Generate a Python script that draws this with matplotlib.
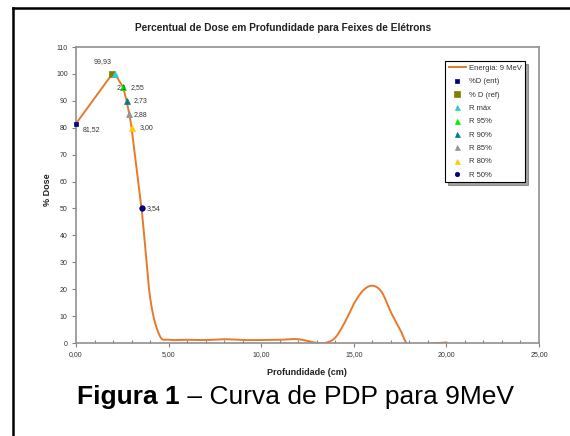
import numpy as np
import matplotlib
matplotlib.use("Agg")
import matplotlib.pyplot as plt
from matplotlib.lines import Line2D
from matplotlib.ticker import MultipleLocator

plt.rcParams['font.family'] = ['Liberation Sans', 'DejaVu Sans']

# ---- data ----
curve_x = [0.0, 1.95, 2.1, 2.55, 2.73, 2.88, 3.00, 3.54, 4.0, 4.5, 5.0, 6.0, 7.0, 8.0,
           9.0, 10.0, 11.0, 12.0, 13.0, 13.5, 14.0, 14.5, 15.0, 15.5, 16.0, 16.5, 17.0,
           17.5, 18.0, 19.0, 20.0]
curve_y = [81.52, 99.93, 100.0, 95.0, 90.0, 85.0, 80.0, 50.0, 17.0, 3.0, 1.2, 1.2, 1.1, 1.4,
           1.1, 1.1, 1.2, 1.4, 0.0, 0.1, 2.0, 7.5, 14.5, 19.5, 21.3, 19.0, 11.5,
           5.0, -1.0, -0.3, 0.2]

pt_names = ["%D (ent)", "% D (ref)", "R máx", "R 95%", "R 90%", "R 85%", "R 80%", "R 50%"]
pt_x = [0.0, 1.95, 2.1, 2.55, 2.73, 2.88, 3.00, 3.54]
pt_y = [81.52, 99.93, 100.0, 95.0, 90.0, 85.0, 80.0, 50.0]
pt_labels = ["81,52", "99,93", "2,1", "2,55", "2,73", "2,88", "3,00", "3,54"]
pt_colors = ["#000080", "#808000", "#33CCCC", "#00EE00", "#008080", "#969696", "#FFCC00", "#000080"]
pt_markers = ["s", "s", "^", "^", "^", "^", "^", "o"]
pt_sizes = [3.5, 5, 4.5, 4.5, 4.5, 4.5, 4.5, 4]
lbl_offsets = [(5, -4), (-7, 9), (1, -10), (5, 0), (5, 0), (3, 0), (6, 0), (4, 0)]
lbl_ha = ["left", "center", "left", "left", "left", "left", "left", "left"]

xticks = [0, 5, 10, 15, 20, 25]
xtick_labels = ["0,00", "5,00", "10,00", "15,00", "20,00", "25,00"]
yticks = list(range(0, 111, 10))

W, H = 570, 436
fig = plt.figure(figsize=(W / 100, H / 100), dpi=100)
fig.patch.set_facecolor("white")

L, R, T, B = 76, 539, 47, 343
ax = fig.add_axes([L / W, 1 - B / H, (R - L) / W, (B - T) / H])
ax.set_xlim(0, 25)
ax.set_ylim(0, 110)

# straight segments through the build-up / R-points region, smoothed (Excel-like) after
cx = np.array(curve_x); cy = np.array(curve_y)
k = int(np.where(cx == 3.54)[0][0])
sx = list(cx[:k]); sy = list(cy[:k])
pw, ph = R - L, B - T
P = np.column_stack([cx / 25 * pw, cy / 110 * ph])
n = len(P)
t = np.linspace(0, 1, 40)
for i in range(k, n - 1):
    p0 = P[i - 1]
    p1 = P[i]
    p2 = P[i + 1]
    p3 = P[i + 2] if i + 2 < n else P[i + 1]
    c1 = p1 + (p2 - p0) / 6
    c2 = p2 - (p3 - p1) / 6
    seg = ((1 - t) ** 3)[:, None] * p1 + (3 * (1 - t) ** 2 * t)[:, None] * c1 \
        + (3 * (1 - t) * t ** 2)[:, None] * c2 + (t ** 3)[:, None] * p2
    sx.extend(seg[:, 0] / pw * 25); sy.extend(seg[:, 1] / ph * 110)
ax.plot(sx, sy, color="#E8792B", lw=1.4, label="Energia: 9 MeV", zorder=2)

for i in range(len(pt_x)):
    ax.plot(pt_x[i], pt_y[i], linestyle="none", marker=pt_markers[i], color=pt_colors[i],
            markersize=pt_sizes[i], markeredgewidth=0.5, label=pt_names[i], zorder=3,
            clip_on=False)
    ax.annotate(pt_labels[i], (pt_x[i], pt_y[i]), xytext=lbl_offsets[i],
                textcoords="offset points", ha=lbl_ha[i], va="center",
                fontsize=5, color="#333333", zorder=4)

ax.set_xticks(xticks)
ax.set_xticklabels(xtick_labels)
ax.set_yticks(yticks)
ax.xaxis.set_minor_locator(MultipleLocator(1))
ax.tick_params(axis="both", which="major", labelsize=5, labelcolor="#333333",
               color="#808080", length=3, width=0.8, direction="out", pad=3)
ax.tick_params(axis="x", which="minor", color="#808080", length=2, width=0.8, direction="in")
for s in ax.spines.values():
    s.set_color("#909090")
    s.set_linewidth(1.2)

fig.text(283 / W, 1 - 28 / H, "Percentual de Dose em Profundidade para Feixes de Elétrons",
         ha="center", va="center", fontsize=7.3, fontweight="bold", color="#222222")
fig.text(47 / W, 1 - 190 / H, "% Dose", rotation=90, ha="center", va="center",
         fontsize=6.5, fontweight="bold", color="#222222")
fig.text(307 / W, 1 - 372 / H, "Profundidade (cm)", ha="center", va="center",
         fontsize=6.5, fontweight="bold", color="#222222")

# Caption
cap_y = 1 - 397 / H
t1 = fig.text(77 / W, cap_y, "Figura 1", ha="left", va="center", fontsize=19,
              fontweight="bold", color="black")
fig.canvas.draw()
bb = t1.get_window_extent()
fig.text(bb.x1 / W, cap_y, " – Curva de PDP para 9MeV", ha="left", va="center",
         fontsize=19, color="black")

leg = ax.legend(loc="upper left", bbox_to_anchor=(445 / W, 1 - 61 / H),
                bbox_transform=fig.transFigure, fontsize=5.5, frameon=True,
                fancybox=False, shadow=True, borderpad=0.5, labelspacing=0.78,
                handlelength=2.2, handletextpad=0.4, borderaxespad=0, markerscale=0.8)
leg.get_frame().set_edgecolor("black")
leg.get_frame().set_linewidth(0.8)
for txt in leg.get_texts():
    txt.set_color("#333333")

# Page border
fig.add_artist(Line2D([13 / W, 1.0], [1 - 8 / H, 1 - 8 / H], color="black", lw=1.8,
                      transform=fig.transFigure))
fig.add_artist(Line2D([13 / W, 13 / W], [0, 1 - 8 / H], color="black", lw=1.8,
                      transform=fig.transFigure))

fig.savefig("out.png", dpi=100)
